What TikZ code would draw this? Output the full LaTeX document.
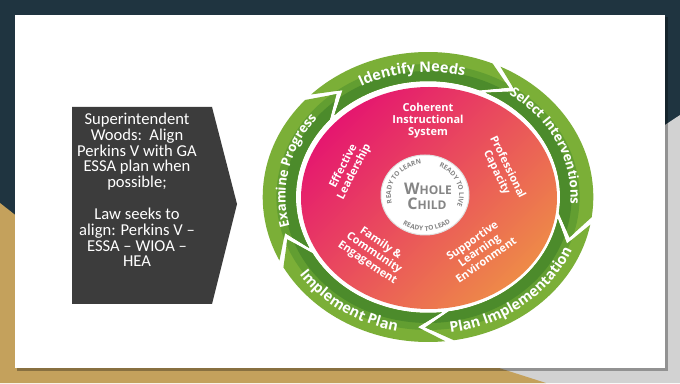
\documentclass[tikz,border=0pt]{standalone}
\usepackage{fontspec}
\newfontfamily\osans{Open Sans}
\newfontfamily\calib{Carlito}
\usetikzlibrary{decorations.text}

\definecolor{navy}{HTML}{1F3440}
\definecolor{sand}{HTML}{C4A15C}
\definecolor{mist}{HTML}{D2D2D2}
\definecolor{slate}{HTML}{3C3C3C}
\definecolor{leaf}{HTML}{7BAF37}
\definecolor{leafmid}{HTML}{629E31}
\definecolor{leafdark}{HTML}{4C8B2B}
\definecolor{rose}{HTML}{E5176F}
\definecolor{coral}{HTML}{EB6176}
\definecolor{peach}{HTML}{EE8A48}
\definecolor{ash}{HTML}{858585}

\newcommand{\ringfont}{\osans\bfseries\fontsize{14.5}{16}\selectfont}
\newcommand{\sidefont}{\osans\bfseries\fontsize{13.2}{15}\selectfont}
\newcommand{\readyfont}{\osans\bfseries\fontsize{6.6}{7}\selectfont}

% ring geometry: y radii, x radii are 1.14 times as wide
\def\Ro{145} \def\Rox{165.3}
\def\Ri{116} \def\Rix{132.2}
\def\Rm{130.5} \def\Rmx{148.8}
\def\Hd{10}

\newcommand{\segpath}[2]{%
  ({#1}:{\Rox} and {\Ro}) arc[start angle={#1}, end angle={#2+\Hd}, x radius=\Rox, y radius=\Ro]
  -- ({#2}:{\Rmx} and {\Rm})
  -- ({#2+\Hd}:{\Rix} and {\Ri}) arc[start angle={#2+\Hd}, end angle={#1}, x radius=\Rix, y radius=\Ri]
  -- ({#1-\Hd}:{\Rmx} and {\Rm}) -- cycle}

\begin{document}
\begin{tikzpicture}[
  x=1pt, y=1pt,
  lefttxt/.style={align=center, text=white, inner sep=0pt,
                  font=\calib\fontsize{16.6}{15.8}\selectfont},
  facet/.style={align=center, text=white, inner sep=0pt,
                font=\osans\bfseries\fontsize{11}{12}\selectfont},
  childtxt/.style={text=ash, inner sep=0pt,
                   font=\osans\bfseries\fontsize{12}{12}\selectfont},
  ringlbl/.style={decorate, decoration={text along path, text align=center,
                  text color=white, text={|\ringfont|#1}}},
  sidelbl/.style={decorate, decoration={text along path, text align=center,
                  text color=white, text={|\sidefont|#1}}},
  readylbl/.style={decorate, decoration={text along path, text align=center,
                   text color=ash, text={|\readyfont|#1}}}]

\useasboundingbox (0,0) rectangle (680,383);

% slide background
\fill[navy] (0,0) rectangle (680,383);
\fill[mist] (680,268) -- (300,15) -- (300,0) -- (680,0) -- cycle;
\fill[sand] (0,180) -- (200,23) -- (499,15) -- (546,0) -- (0,0) -- cycle;
\fill[black, opacity=.3] (17,12) rectangle (668,366);
\fill[white] (15,15) rectangle (665,368);

% left arrow box
\fill[slate] (72,276) -- (212,276) -- (237,179) -- (212,79) -- (72,79) -- cycle;
\node[lefttxt] (woods) at (137,193) {Superintendent\\ Woods:\ \ Align\\
  Perkins V with GA\\ ESSA plan when\\ possible;\\[16pt] Law seeks to\\
  align: Perkins V –\\ ESSA – WIOA –\\ HEA};

% cycle ring
\begin{scope}[shift={(428,186)}]
  \foreach \T/\h in {135/57, 64/-18, -11/-91, -84/-161, 206/128} {
    \begin{scope}
      \clip \segpath{\T}{\h};
      \fill[leaf] (-200,-200) rectangle (200,200);
      \fill[leafmid] (0,0) ellipse[x radius=151.6, y radius=133];
      \fill[leafdark] (0,0) ellipse[x radius=143.6, y radius=126];
    \end{scope}
  }

  \shade[top color=rose, middle color=coral, bottom color=peach, shading angle=45]
    (1,-1) ellipse[x radius=128, y radius=111];

  \path[ringlbl={Identify Needs}] (147:{142.5} and {125})
    arc[start angle=147, end angle=47, x radius=142.5, y radius=125];
  \path[sidelbl={Select Interventions}] (75:{142.5} and {125})
    arc[start angle=75, end angle=-25, x radius=142.5, y radius=125];
  \path[sidelbl={Examine Progress}] (218:{142.5} and {125})
    arc[start angle=218, end angle=118, x radius=142.5, y radius=125];
  \path[ringlbl={Plan Implementation}] (-101:{156.2} and {137})
    arc[start angle=-101, end angle=-1, x radius=156.2, y radius=137];
  \path[ringlbl={Implement Plan}] (-175:{156.2} and {137})
    arc[start angle=-175, end angle=-75, x radius=156.2, y radius=137];
\end{scope}

% the five facets
\node[facet] (coherent) at (428,262) {Coherent\\ Instructional\\ System};
\node[facet, rotate=63] (leadership) at (349,214) {Effective\\ Leadership};
\node[facet, rotate=-64] (capacity) at (502,213) {Professional\\ Capacity};
\node[facet, rotate=35] (support) at (479,133) {Supportive\\ Learning\\ Environment};
\node[facet, rotate=-34] (family) at (374,130) {Family \&\\ Community\\ Engagement};

% whole child centre
\begin{scope}[shift={(425,188)}]
  \fill[white] (0,0) ellipse[x radius=44, y radius=40];
  \draw[black!12, line width=1pt] (0,0) ellipse[x radius=44, y radius=40];
  \path[readylbl={READY TO LEARN}] (206:{34.1} and {31})
    arc[start angle=206, end angle=86, x radius=34.1, y radius=31];
  \path[readylbl={READY TO LIVE}] (82:{34.1} and {31})
    arc[start angle=82, end angle=-38, x radius=34.1, y radius=31];
  \path[readylbl={READY TO LEAD}] (213:{39.6} and {36})
    arc[start angle=213, end angle=333, x radius=39.6, y radius=36];
  \node[childtxt] (whole) at (3,6) {{\fontsize{16}{16}\selectfont W}HOLE};
  \node[childtxt] (child) at (2,-9) {{\fontsize{16}{16}\selectfont C}HILD};
\end{scope}
\end{tikzpicture}
\end{document}
